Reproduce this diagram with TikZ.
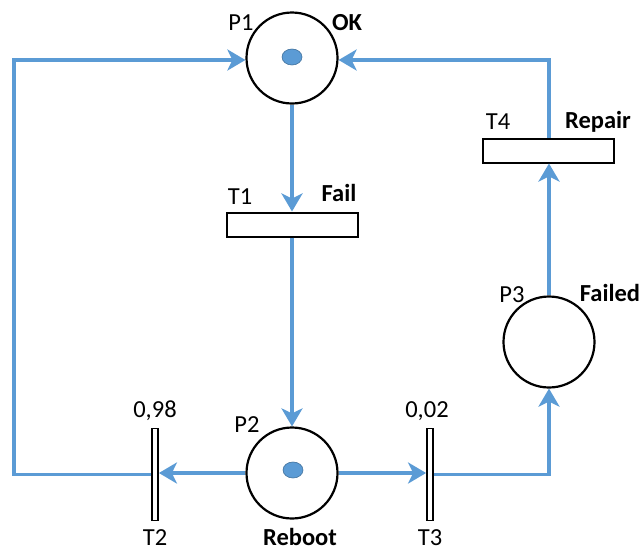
\documentclass[tikz,border=0pt]{standalone}
\usepackage{fontspec}
\setmainfont{Carlito}
\usetikzlibrary{arrows.meta,shapes.geometric}
\definecolor{flowblue}{HTML}{5B9BD5}
\definecolor{tokenedge}{HTML}{41719C}

\begin{document}
\begin{tikzpicture}[x=1pt,y=-1pt,
  place/.style={circle,draw=black,line width=2.2pt,minimum size=91pt,inner sep=0pt,fill=white},
  htrans/.style={rectangle,draw=black,line width=2pt,minimum width=131pt,minimum height=24pt,inner sep=0pt,fill=white},
  vtrans/.style={rectangle,draw=black,line width=1.8pt,minimum width=6pt,minimum height=92pt,inner sep=0pt,fill=white},
  token/.style={ellipse,fill=flowblue,draw=tokenedge,line width=0.6pt,minimum width=20pt,minimum height=16pt,inner sep=0pt},
  flow/.style={draw=flowblue,line width=3.4pt,line join=miter,-{Stealth[length=18pt,width=21pt,inset=5pt]}},
  lbl/.style={font=\fontsize{24.5}{28}\selectfont,inner sep=0pt},
  title/.style={font=\fontsize{24.5}{28}\selectfont\bfseries,inner sep=0pt}
]
\useasboundingbox (0,0) rectangle (642,552);

% places
\node[place] (P1) at (292,58) {};
\node[place] (P2) at (292,473) {};
\node[place] (P3) at (549,342) {};
\node[token] (k1) at (292,57) {};
\node[token] (k2) at (293,470) {};

% transitions
\node[htrans] (T1) at (292,224.5) {};
\node[htrans] (T4) at (548.5,150.5) {};
\node[vtrans] (T2) at (155,474.5) {};
\node[vtrans] (T3) at (430,474.5) {};

% loop corners
\coordinate (cTL) at (14,60);
\coordinate (cBL) at (14,474.5);

% arcs
\draw[flow] (P1.south) -- (T1.north);
\draw[flow] (T1.south) -- (P2.north);
\draw[flow] (P2.west) -- (P2.west -| T2.east);
\draw[flow] (T2.west) -- (cBL) -- (cTL) -- (cTL -| P1.west);
\draw[flow] (P2.east) -- (P2.east -| T3.west);
\draw[flow] (T3.east) -- (T3.east -| P3.south) -- (P3.south);
\draw[flow] (P3.north) -- (P3.north |- T4.south);
\draw[flow] (T4.north -| P3.north) -- (P3.north |- cTL) -- (cTL -| P1.east);

% labels
\node[lbl] (lP1) at (241,23) {P1};
\node[title] (nP1) at (347,23) {OK};
\node[lbl] (lT1) at (240,197) {T1};
\node[title] (nT1) at (339,193) {Fail};
\node[lbl] (lP2) at (247,425) {P2};
\node[title] (nP2) at (300,537) {Reboot};
\node[lbl] (lT2) at (155,538) {T2};
\node[lbl] (pT2) at (155,411) {0,98};
\node[lbl] (lT3) at (430,538) {T3};
\node[lbl] (pT3) at (427,411) {0,02};
\node[lbl] (lP3) at (512,295) {P3};
\node[title] (nP3) at (610,293) {Failed};
\node[lbl] (lT4) at (498,122) {T4};
\node[title] (nT4) at (598,122) {Repair};
\end{tikzpicture}
\end{document}
